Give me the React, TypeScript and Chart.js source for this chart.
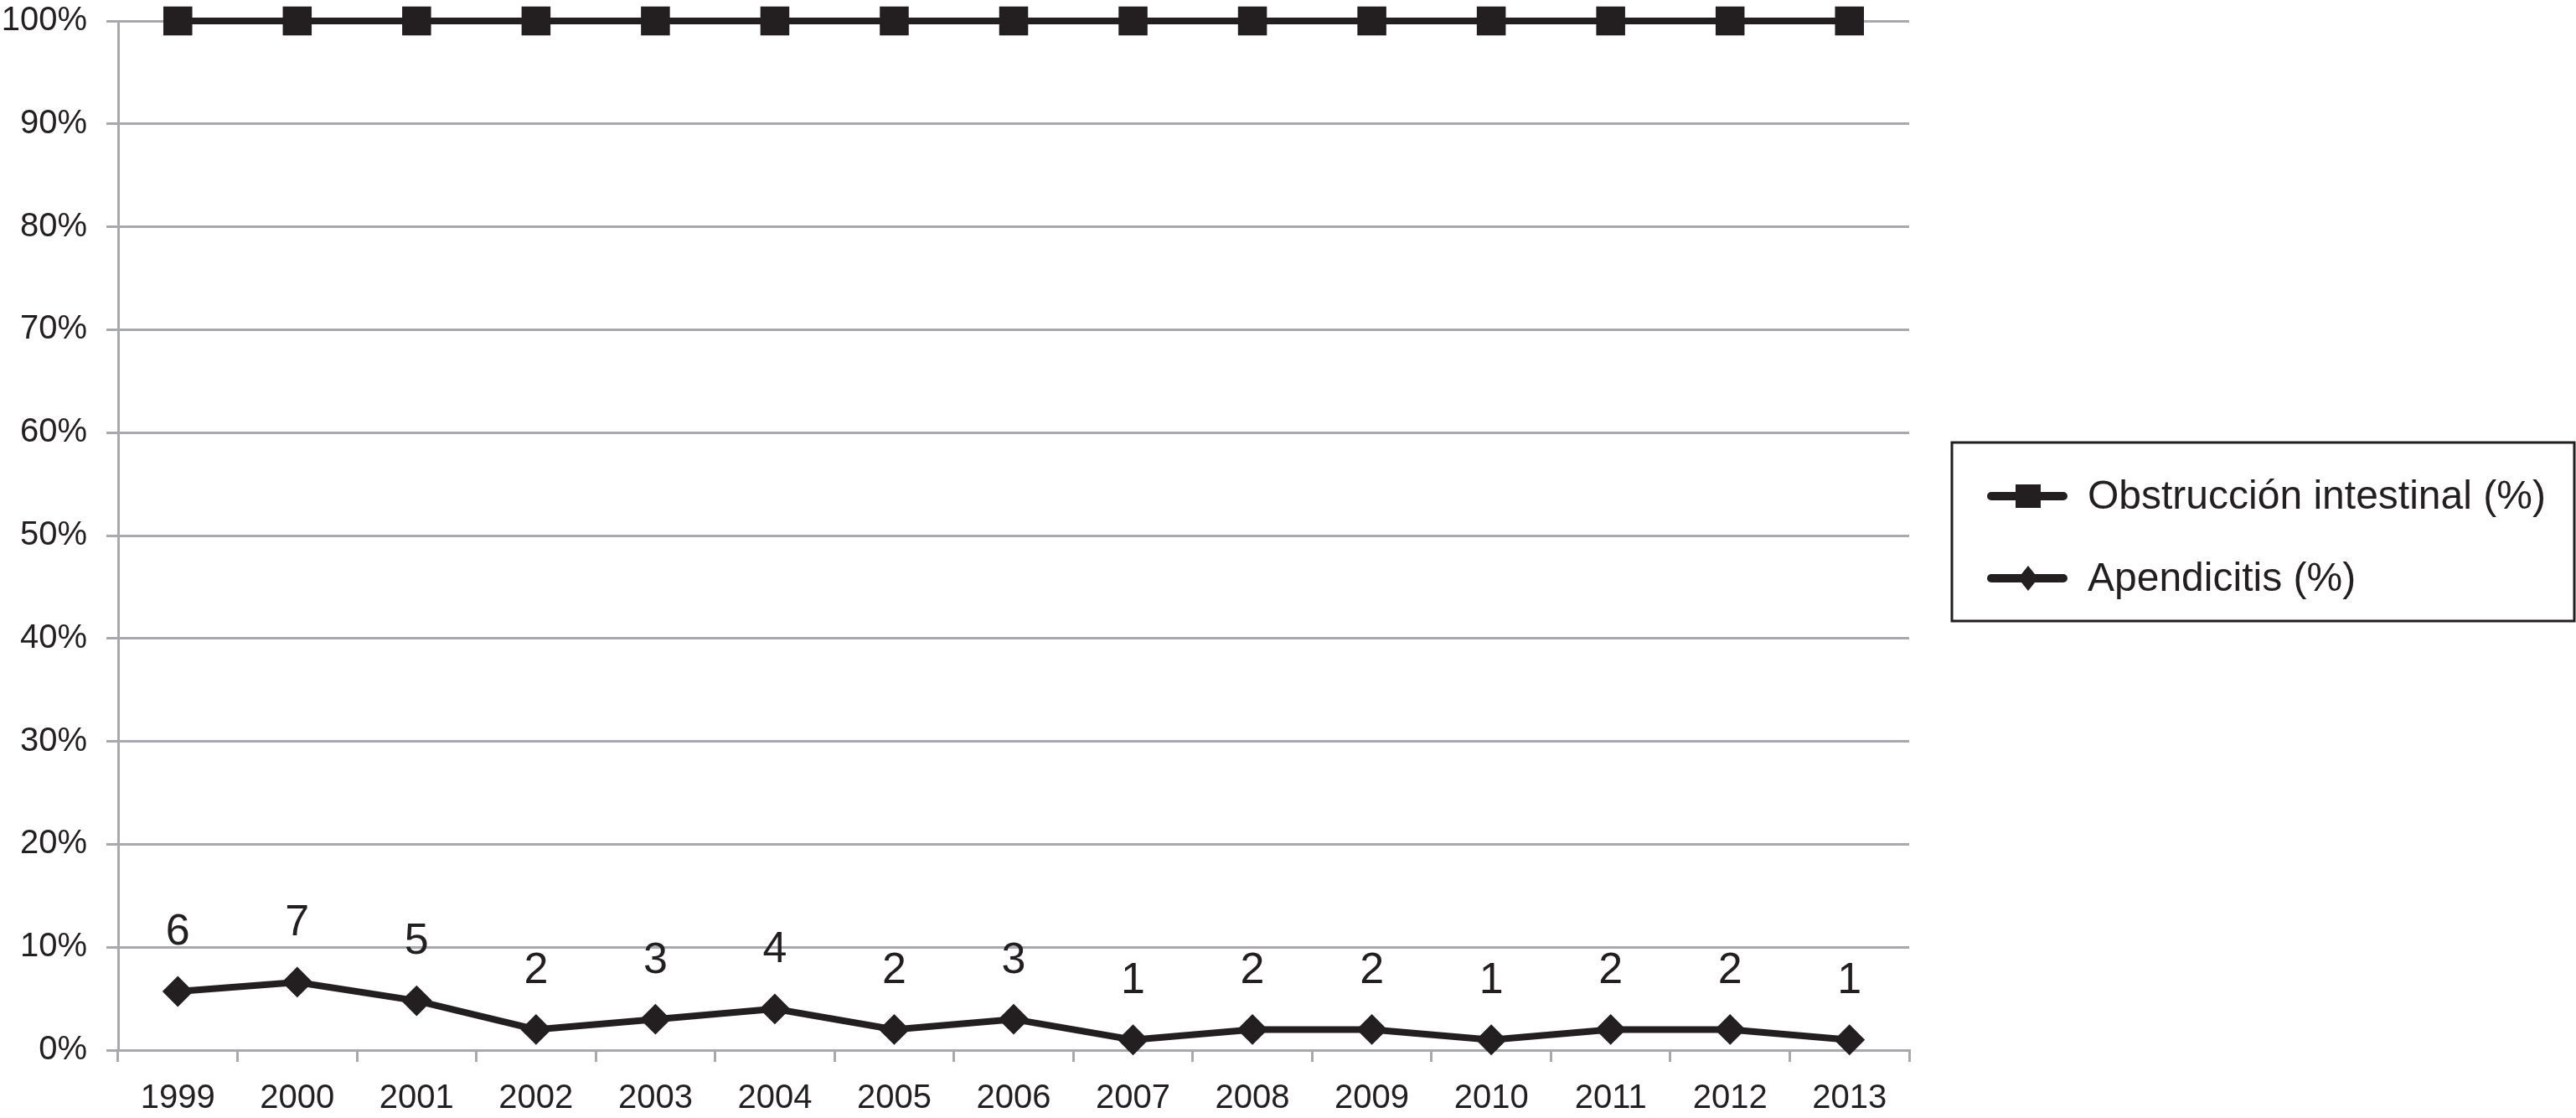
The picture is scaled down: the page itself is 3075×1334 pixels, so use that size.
import React, { useEffect, useRef } from "react";
import { Chart, registerables } from "chart.js";

Chart.register(...registerables);

const years = ["1999", "2000", "2001", "2002", "2003", "2004", "2005", "2006", "2007", "2008", "2009", "2010", "2011", "2012", "2013"];
const obstruccion = [100, 100, 100, 100, 100, 100, 100, 100, 100, 100, 100, 100, 100, 100, 100];
const apendicitis = [5.7, 6.6, 4.8, 2, 3, 4, 2, 3, 1, 2, 2, 1, 2, 2, 1];
const apendicitisCounts = ["6", "7", "5", "2", "3", "4", "2", "3", "1", "2", "2", "1", "2", "2", "1"];
const seriesNames = ["Obstrucción intestinal (%)", "Apendicitis (%)"];

const INK = "#231F20";
const GRID = "#A7A9AC";
const FONT = "'Liberation Sans', Arial, Helvetica, sans-serif";

const W = 3075;
const H = 1334;

const dataLabelPlugin = {
  id: "dataLabels",
  afterDatasetsDraw(chart: any) {
    const ctx = chart.ctx;
    const meta = chart.getDatasetMeta(1);
    ctx.save();
    ctx.fillStyle = INK;
    ctx.font = `52px ${FONT}`;
    ctx.textAlign = "center";
    ctx.textBaseline = "middle";
    meta.data.forEach((pt: any, i: number) => {
      ctx.fillText(apendicitisCounts[i], pt.x, pt.y - 70);
    });
    ctx.restore();
  },
};

const boxLegendPlugin = {
  id: "boxLegend",
  afterDraw(chart: any) {
    const ctx = chart.ctx;
    const bx = 2330, by = 528, bw = 743, bh = 213;
    ctx.save();
    ctx.strokeStyle = INK;
    ctx.lineWidth = 3;
    ctx.strokeRect(bx, by, bw, bh);
    const rows = [592, 690];
    rows.forEach((y, i) => {
      ctx.strokeStyle = INK;
      ctx.lineWidth = 10;
      ctx.lineCap = "round";
      ctx.beginPath();
      ctx.moveTo(2377, y);
      ctx.lineTo(2463, y);
      ctx.stroke();
      ctx.fillStyle = INK;
      const cx = 2421;
      if (i === 0) {
        ctx.fillRect(cx - 15, y - 14, 30, 28);
      } else {
        ctx.beginPath();
        ctx.moveTo(cx, y - 15);
        ctx.lineTo(cx + 12, y);
        ctx.lineTo(cx, y + 15);
        ctx.lineTo(cx - 12, y);
        ctx.closePath();
        ctx.fill();
      }
      ctx.font = `48px ${FONT}`;
      ctx.textAlign = "left";
      ctx.textBaseline = "middle";
      ctx.fillText(seriesNames[i], 2492, y + 2);
    });
    ctx.restore();
  },
};

export default function App() {
  const ref = useRef<HTMLCanvasElement>(null);
  useEffect(() => {
    if (!ref.current) return;
    const chart = new Chart(ref.current, {
      type: "line",
      data: {
        labels: years,
        datasets: [
          {
            label: seriesNames[0],
            data: obstruccion,
            borderColor: INK,
            backgroundColor: INK,
            borderWidth: 8,
            pointStyle: "rect",
            pointRadius: 23,
            pointBorderWidth: 2,
            pointBackgroundColor: INK,
            pointBorderColor: INK,
            clip: false,
          } as any,
          {
            label: seriesNames[1],
            data: apendicitis,
            borderColor: INK,
            backgroundColor: INK,
            borderWidth: 8,
            pointStyle: "rectRot",
            pointRadius: 17,
            pointBorderWidth: 2,
            pointBackgroundColor: INK,
            pointBorderColor: INK,
            clip: false,
          } as any,
        ],
      },
      options: {
        responsive: false,
        animation: false,
        devicePixelRatio: 1,
        layout: { padding: { top: 23, right: W - 2279, left: 0, bottom: 0 } },
        plugins: {
          legend: { display: false },
          tooltip: { enabled: false },
        },
        scales: {
          x: {
            offset: true,
            grid: {
              offset: true,
              drawOnChartArea: false,
              drawTicks: true,
              tickLength: 14,
              color: GRID,
              lineWidth: 3,
            },
            border: { display: true, color: GRID, width: 3 },
            ticks: {
              color: INK,
              font: { family: FONT, size: 40 },
              padding: 20,
              maxRotation: 0,
              autoSkip: false,
            },
            afterFit: (s: any) => {
              s.height = H - 1253;
              s.paddingLeft = 0;
              s.paddingRight = 0;
            },
          },
          y: {
            min: 0,
            max: 100,
            grid: {
              color: GRID,
              lineWidth: 3,
              drawTicks: true,
              tickLength: 14,
            },
            border: { display: true, color: GRID, width: 3 },
            ticks: {
              stepSize: 10,
              color: INK,
              font: { family: FONT, size: 40 },
              padding: 23,
              callback: (v: any) => `${v}%`,
            },
            afterFit: (s: any) => {
              s.width = 141;
              s.paddingTop = 0;
              s.paddingBottom = 0;
            },
          },
        },
      },
      plugins: [dataLabelPlugin, boxLegendPlugin],
    });
    return () => chart.destroy();
  }, []);
  return (
    <div style={{ position: "fixed", left: 0, top: 0, width: W, height: H, background: "#fff" }}>
      <canvas ref={ref} width={W} height={H} style={{ width: W, height: H, display: "block" }} />
    </div>
  );
}
